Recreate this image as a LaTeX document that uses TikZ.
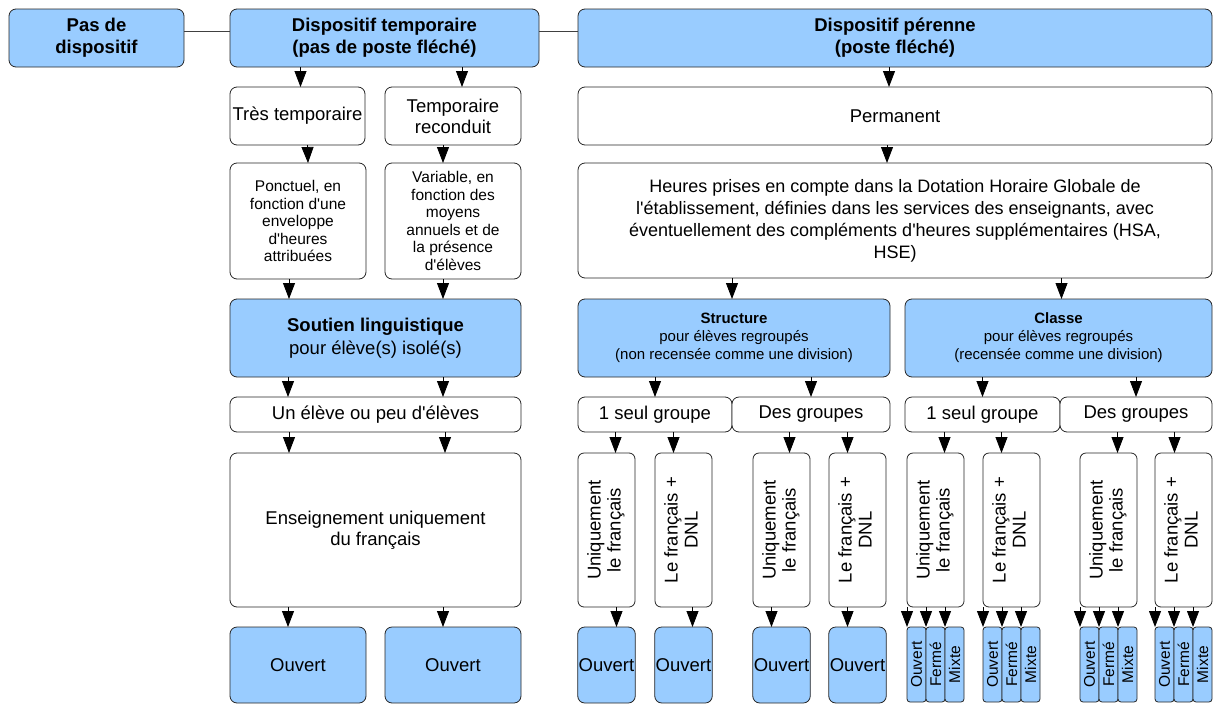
\documentclass[tikz,border=0pt]{standalone}
\usepackage{fontspec}
\setmainfont{Liberation Sans}[Ligatures=TeXOff]
\usepackage{graphicx}
\usetikzlibrary{arrows.meta, positioning}
\definecolor{boxblue}{HTML}{99CCFF}
\newlength{\rowgap}
\setlength{\rowgap}{20pt}
\tikzstyle{block} = [rectangle, draw=black!85, line width=0.8pt, rounded corners=7pt, fill=white, align=center, inner sep=1pt, outer sep=0pt, font=\fontsize{18.5}{21}\selectfont]
\tikzstyle{title} = [block, fill=boxblue, font=\fontsize{18.5}{22}\selectfont\bfseries]
\tikzstyle{choice} = [block, fill=boxblue]
\tikzstyle{tall} = [block, rounded corners=6pt, minimum width=57pt, minimum height=154pt, font=\fontsize{18.5}{20}\selectfont]
\tikzstyle{tiny} = [choice, rounded corners=3pt, minimum width=19pt, minimum height=75pt, inner sep=0pt, font=\fontsize{15.5}{17}\selectfont]
\tikzstyle{arrow} = [line width=0.8pt, -{Triangle[length=16pt, width=12pt]}]
\tikzstyle{link} = [line width=0.8pt, draw=black!75]
\newcommand{\vtext}[1]{\rotatebox{90}{\begin{tabular}{@{}c@{}}#1\end{tabular}}}

\begin{document}
\begin{tikzpicture}[x=1pt, y=-1pt]
    \useasboundingbox (0,0) rectangle (1218,704);

    % Top row
    \node (pas) [title, minimum width=175pt, minimum height=58pt, anchor=north west] at (9,9) {Pas de\\dispositif};
    \node (temp) [title, minimum width=309pt, minimum height=58pt, right=46pt of pas] {Dispositif temporaire\\(pas de poste fléché)};
    \node (peren) [title, minimum width=634pt, minimum height=58pt, right=39pt of temp] {Dispositif pérenne\\(poste fléché)};

    % Temporary column
    \node (tt) [block, minimum width=135pt, minimum height=58pt, below=\rowgap of temp.south west, anchor=north west] {Très temporaire};
    \node (tr) [block, minimum width=136pt, minimum height=58pt, right=20pt of tt] {Temporaire\\reconduit};
    \node (ponc) [block, minimum width=136pt, minimum height=116pt, below=18pt of tt.south west, anchor=north west, font=\fontsize{15.5}{17.5}\selectfont] {Ponctuel, en\\fonction d'une\\enveloppe\\d'heures\\attribuées};
    \node (vari) [block, minimum width=136pt, minimum height=116pt, right=19pt of ponc, font=\fontsize{15.5}{17.5}\selectfont] {Variable, en\\fonction des\\moyens\\annuels et de\\la présence\\d'élèves};
    \node (sout) [choice, minimum width=291pt, minimum height=78pt, below=\rowgap of ponc.south west, anchor=north west, font=\fontsize{18.5}{23}\selectfont] {\textbf{Soutien linguistique}\\pour élève(s) isolé(s)};
    \node (unel) [block, minimum width=291pt, minimum height=35pt, below=\rowgap of sout] {Un élève ou peu d'élèves};
    \node (ens) [block, minimum width=291pt, minimum height=154pt, below=21pt of unel] {Enseignement uniquement\\du français};
    \node (ouv1) [choice, minimum width=136pt, minimum height=76pt, below=\rowgap of ens.south west, anchor=north west] {Ouvert};
    \node (ouv2) [choice, minimum width=136pt, minimum height=76pt, right=19pt of ouv1] {Ouvert};

    % Permanent column
    \node (perm) [block, minimum width=634pt, minimum height=58pt, below=\rowgap of peren] {Permanent};
    \node (heur) [block, minimum width=634pt, minimum height=115pt, below=18pt of perm, font=\fontsize{18}{22}\selectfont] {Heures prises en compte dans la Dotation Horaire Globale de\\l'établissement, définies dans les services des enseignants, avec\\éventuellement des compléments d'heures supplémentaires (HSA,\\HSE)};
    \node (struc) [choice, minimum width=312pt, minimum height=78pt, below=21pt of heur.south west, anchor=north west, font=\fontsize{15}{18}\selectfont] {\textbf{Structure}\\pour élèves regroupés\\(non recensée comme une division)};
    \node (clas) [choice, minimum width=307pt, minimum height=78pt, right=15pt of struc, font=\fontsize{15}{18}\selectfont] {\textbf{Classe}\\pour élèves regroupés\\(recensée comme une division)};
    \node (sg1) [block, minimum width=154pt, minimum height=35pt, below=\rowgap of struc.south west, anchor=north west] {1 seul groupe};
    \node (dg1) [block, minimum width=158pt, minimum height=35pt, right=0pt of sg1] {Des groupes};
    \node (sg2) [block, minimum width=155pt, minimum height=35pt, below=\rowgap of clas.south west, anchor=north west] {1 seul groupe};
    \node (dg2) [block, minimum width=152pt, minimum height=35pt, right=0pt of sg2] {Des groupes};

    % Vertical boxes
    \node (su1) [tall, below=21pt of sg1.south west, anchor=north west] {\vtext{Uniquement\\le français}};
    \node (sd1) [tall, right=20pt of su1] {\vtext{Le français +\\DNL}};
    \node (su2) [tall, below=21pt of dg1.south west, anchor=north west, xshift=21pt] {\vtext{Uniquement\\le français}};
    \node (sd2) [tall, right=19pt of su2] {\vtext{Le français +\\DNL}};
    \node (cu1) [tall, below=21pt of sg2.south west, anchor=north west, xshift=2pt] {\vtext{Uniquement\\le français}};
    \node (cd1) [tall, right=19pt of cu1] {\vtext{Le français +\\DNL}};
    \node (cu2) [tall, below=21pt of dg2.south west, anchor=north west, xshift=20pt] {\vtext{Uniquement\\le français}};
    \node (cd2) [tall, right=18pt of cu2] {\vtext{Le français +\\DNL}};

    % Structure outputs
    \node (so1) [choice, minimum width=57pt, minimum height=76pt, below=\rowgap of su1] {Ouvert};
    \node (so2) [choice, minimum width=57pt, minimum height=76pt, below=\rowgap of sd1] {Ouvert};
    \node (so3) [choice, minimum width=57pt, minimum height=76pt, below=\rowgap of su2] {Ouvert};
    \node (so4) [choice, minimum width=57pt, minimum height=76pt, below=\rowgap of sd2] {Ouvert};

    % Classe outputs
    \foreach \col in {cu1, cd1, cu2, cd2} {
        \node (\col-o) [tiny, below=\rowgap of \col.south west, anchor=north west] {\rotatebox{90}{Ouvert}};
        \node (\col-f) [tiny, right=0pt of \col-o] {\rotatebox{90}{Fermé}};
        \node (\col-m) [tiny, right=0pt of \col-f] {\rotatebox{90}{Mixte}};
        \draw [arrow] (\col.south -| \col-o.north west) -- (\col-o.north west);
        \draw [arrow] (\col.south -| \col-f.north west) -- (\col-f.north west);
        \draw [arrow] (\col.south -| \col-m.north west) -- (\col-m.north west);
    }

    % ==== Links
    \draw [link] ([yshift=7pt]pas.east) -- ([yshift=7pt]temp.west);
    \draw [link] ([yshift=7pt]temp.east) -- ([yshift=7pt]peren.west);

    % ==== Arrows
    % Temporary
    \draw [arrow] ([xshift=3pt]tt.north |- temp.south) -- ([xshift=3pt]tt.north);
    \draw [arrow] ([xshift=9pt]tr.north |- temp.south) -- ([xshift=9pt]tr.north);
    \draw [arrow] ([xshift=10pt]tt.south) -- ([xshift=10pt]ponc.north);
    \draw [arrow] ([xshift=-10pt]tr.south) -- ([xshift=-10pt]vari.north);
    \draw [arrow] ([xshift=-9pt]ponc.south) -- ([xshift=-9pt]ponc.south |- sout.north);
    \draw [arrow] ([xshift=-10pt]vari.south) -- ([xshift=-10pt]vari.south |- sout.north);
    \draw [arrow] ([xshift=-10pt]ouv1.north |- sout.south) -- ([xshift=-10pt]ouv1.north |- unel.north);
    \draw [arrow] ([xshift=-10pt]ouv2.north |- sout.south) -- ([xshift=-10pt]ouv2.north |- unel.north);
    \draw [arrow] ([xshift=-9pt]ouv1.north |- unel.south) -- ([xshift=-9pt]ouv1.north |- ens.north);
    \draw [arrow] ([xshift=-8pt]ouv2.north |- unel.south) -- ([xshift=-8pt]ouv2.north |- ens.north);
    \draw [arrow] ([xshift=-10pt]ouv1.north |- ens.south) -- ([xshift=-10pt]ouv1.north);
    \draw [arrow] ([xshift=-10pt]ouv2.north |- ens.south) -- ([xshift=-10pt]ouv2.north);

    % Permanent
    \draw [arrow] ([xshift=-6pt]peren.south) -- ([xshift=-6pt]perm.north);
    \draw [arrow] ([xshift=-8pt]perm.south) -- ([xshift=-8pt]heur.north);
    \draw [arrow] ([xshift=-2pt]struc.north |- heur.south) -- ([xshift=-2pt]struc.north);
    \draw [arrow] ([xshift=3pt]clas.north |- heur.south) -- ([xshift=3pt]clas.north);
    \draw [arrow] (sg1.north |- struc.south) -- (sg1.north);
    \draw [arrow] (dg1.north |- struc.south) -- (dg1.north);
    \draw [arrow] (sg2.north |- clas.south) -- (sg2.north);
    \draw [arrow] (dg2.north |- clas.south) -- (dg2.north);

    % Groups
    \draw [arrow] ([xshift=9pt]su1.north |- sg1.south) -- ([xshift=9pt]su1.north);
    \draw [arrow] ([xshift=-10pt]sd1.north |- sg1.south) -- ([xshift=-10pt]sd1.north);
    \draw [arrow] ([xshift=8pt]su2.north |- dg1.south) -- ([xshift=8pt]su2.north);
    \draw [arrow] ([xshift=-10pt]sd2.north |- dg1.south) -- ([xshift=-10pt]sd2.north);
    \draw [arrow] ([xshift=9pt]cu1.north |- sg2.south) -- ([xshift=9pt]cu1.north);
    \draw [arrow] ([xshift=-10pt]cd1.north |- sg2.south) -- ([xshift=-10pt]cd1.north);
    \draw [arrow] ([xshift=9pt]cu2.north |- dg2.south) -- ([xshift=9pt]cu2.north);
    \draw [arrow] ([xshift=-9pt]cd2.north |- dg2.south) -- ([xshift=-9pt]cd2.north);

    % Structure outputs
    \draw [arrow] ([xshift=10pt]su1.south) -- ([xshift=10pt]so1.north);
    \draw [arrow] ([xshift=9pt]sd1.south) -- ([xshift=9pt]so2.north);
    \draw [arrow] ([xshift=-10pt]su2.south) -- ([xshift=-10pt]so3.north);
    \draw [arrow] ([xshift=-10pt]sd2.south) -- ([xshift=-10pt]so4.north);

\end{tikzpicture}
\end{document}
